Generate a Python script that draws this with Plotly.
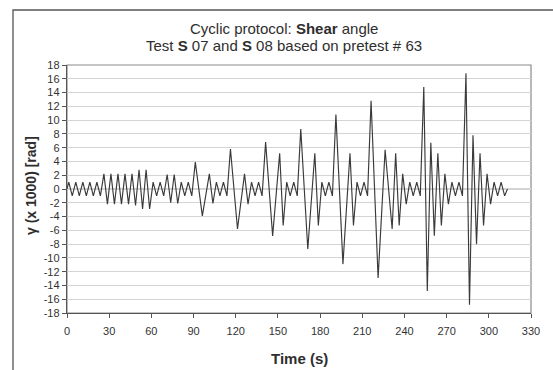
import plotly.graph_objects as go

# Vertex times (s)
time_s = [
    0, 1.25, 3.75, 6.25, 8.75, 11.25, 13.75, 16.25, 18.75, 21.25, 23.75,
    26.25, 28.75, 31.25, 33.75, 36.25, 38.75, 41.25, 43.75, 46.25, 48.75, 51.25, 53.75, 56.25, 58.75,
    61.25, 63.75, 66.25, 68.75, 71.25, 73.75, 76.25, 78.75, 81.25, 83.75, 86.25, 88.75,
    91.25, 96.25, 101.25, 103.75, 106.25, 108.75, 111.25, 113.75,
    116.25, 121.25, 126.25, 128.75, 131.25, 133.75, 136.25, 138.75,
    141.25, 146.25, 151.25, 153.75, 156.25, 158.75, 161.25, 163.75,
    166.25, 171.25, 176.25, 178.75, 181.25, 183.75, 186.25, 188.75,
    191.25, 196.25, 201.25, 203.75, 206.25, 208.75, 211.25, 213.75,
    216.25, 221.25, 226.25, 231.25, 233.75, 236.25, 238.75, 241.25, 243.75, 246.25, 248.75, 251.25,
    253.75, 256.25, 258.75, 261.25, 263.75, 266.25, 268.75, 271.25, 273.75, 276.25, 278.75, 281.25,
    283.75, 286.25, 288.75, 291.25, 293.75, 296.25, 298.75, 301.25, 303.75, 306.25, 308.75, 311.25, 313.25,
]

# Shear angle gamma (x 1000) [rad] at each vertex
gamma = [
    0, 1, -1, 1, -1, 1, -1, 1, -1, 1, -1,
    2.2, -2.2, 2.2, -2.2, 2.2, -2.2, 2.2, -2.2, 2.2, -2.4, 2.8, -2.9, 2.8, -2.9,
    1, -1, 1, -1, 2.1, -2, 2.1, -2.1, 1, -1, 1, -1,
    3.9, -3.9, 2.2, -2.1, 1, -1, 1, -1,
    5.8, -5.8, 2.2, -2.2, 1, -1, 1, -1,
    6.8, -6.8, 5.2, -5.3, 1, -1, 1, -1,
    8.7, -8.7, 5.2, -5.3, 1, -1, 1, -1,
    10.8, -10.9, 5.2, -5.3, 1, -1, 1, -1,
    12.8, -12.9, 5.7, -5.8, 5.2, -5.3, 2.2, -2.2, 1, -1, 1, -1,
    14.8, -14.8, 6.7, -6.8, 5.2, -5.3, 2.2, -2.2, 1, -1, 1, -1,
    16.8, -16.8, 7.8, -8, 5.2, -5.3, 2.2, -2.2, 1, -1, 1, -1, 0,
]

x_ticks = [0, 30, 60, 90, 120, 150, 180, 210, 240, 270, 300, 330]
y_ticks = [-18, -16, -14, -12, -10, -8, -6, -4, -2, 0, 2, 4, 6, 8, 10, 12, 14, 16, 18]

title_line1 = "Cyclic protocol: <b>Shear</b> angle"
title_line2 = "Test <b>S</b> 07 and <b>S</b> 08 based on pretest # 63"
x_title = "<b>Time (s)</b>"
y_title = "<b>γ (x 1000) [rad]</b>"

FONT = "Liberation Sans, Arial, sans-serif"
W, H = 553, 370
L, R, T, B = 67, 22, 65, 57
PW, PH = W - L - R, H - T - B


def px(xp):
    return (xp - L) / PW


def py(yp):
    return (H - B - yp) / PH


fig = go.Figure()
fig.add_trace(go.Scatter(
    x=time_s, y=gamma, mode="lines",
    line=dict(color="#3a3a3a", width=1.15),
    showlegend=False, hoverinfo="skip",
))

fig.update_layout(
    width=W, height=H,
    margin=dict(l=L, r=R, t=T, b=B, pad=0),
    paper_bgcolor="white", plot_bgcolor="white",
    font=dict(family=FONT, size=11, color="#333333"),
    showlegend=False,
    hovermode=False,
    xaxis=dict(
        range=[0, 330], tickvals=x_ticks, ticktext=[str(v) for v in x_ticks],
        showgrid=False, zeroline=False,
        showline=True, linecolor="#555555", linewidth=1.2,
        ticks="outside", ticklen=4, tickcolor="#555555", tickwidth=1,
        tickfont=dict(size=11, color="#333333"),
        ticklabelstandoff=4,
        automargin=False, fixedrange=True,
    ),
    yaxis=dict(
        range=[-18, 18], tickvals=y_ticks, ticktext=[str(v) for v in y_ticks],
        showgrid=True, gridcolor="#d4d4d4", gridwidth=1.2,
        zeroline=False,
        showline=True, linecolor="#555555", linewidth=1.2,
        ticks="outside", ticklen=4, tickcolor="#555555", tickwidth=1,
        tickfont=dict(size=11, color="#333333"),
        automargin=False, fixedrange=True,
    ),
    shapes=[
        # plot area border (top / right)
        dict(type="rect", xref="paper", yref="paper", x0=0, x1=1, y0=0, y1=1,
             line=dict(color="#8a8a8a", width=1.2), layer="below"),
        # outer chart frame (cut off at right / bottom)
        dict(type="rect", xref="paper", yref="paper",
             x0=px(13), x1=px(575), y0=py(390), y1=py(10),
             line=dict(color="#555555", width=1.3)),
    ],
    annotations=[
        dict(text=title_line1, xref="paper", yref="paper", x=px(284), y=py(29),
             xanchor="center", yanchor="middle", showarrow=False,
             font=dict(size=15, color="#2e2e2e", family=FONT)),
        dict(text=title_line2, xref="paper", yref="paper", x=px(284), y=py(46),
             xanchor="center", yanchor="middle", showarrow=False,
             font=dict(size=15, color="#2e2e2e", family=FONT)),
        dict(text=x_title, xref="paper", yref="paper", x=px(299), y=py(358),
             xanchor="center", yanchor="middle", showarrow=False,
             font=dict(size=15, color="#2e2e2e", family=FONT)),
        dict(text=y_title, xref="paper", yref="paper", x=px(31), y=py(186),
             xanchor="center", yanchor="middle", showarrow=False, textangle=-90,
             font=dict(size=14, color="#2e2e2e", family=FONT)),
    ],
)

fig.write_html(
    "out.html",
    config={"displayModeBar": False, "staticPlot": True},
    post_script="document.body.style.margin='0px';document.body.style.overflow='hidden';",
)
